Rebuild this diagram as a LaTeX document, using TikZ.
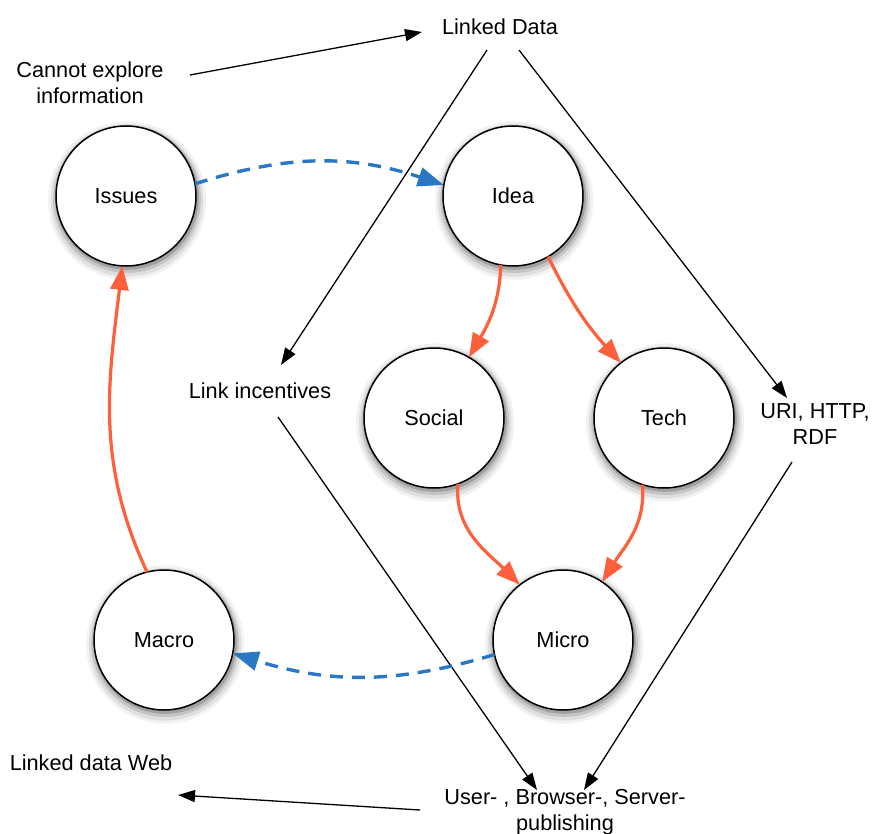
\documentclass[tikz,border=0pt]{standalone}
\usepackage{fontspec}
\setmainfont{Liberation Sans}
\usetikzlibrary{arrows.meta,shadows,calc}

\definecolor{flow}{RGB}{255,96,60}
\definecolor{loop}{RGB}{42,120,196}

\tikzset{
  disc/.style={circle, draw=black, line width=1.5pt, fill=white,
    minimum size=140pt, inner sep=0pt, outer sep=0pt,
    general shadow={fill=black, opacity=0.05, shadow scale=1.13, shadow xshift=1pt, shadow yshift=-4pt},
    general shadow={fill=black, opacity=0.08, shadow scale=1.09, shadow xshift=1pt, shadow yshift=-4pt},
    general shadow={fill=black, opacity=0.12, shadow scale=1.055, shadow xshift=1pt, shadow yshift=-3pt},
    general shadow={fill=black, opacity=0.18, shadow scale=1.025, shadow xshift=1pt, shadow yshift=-2pt}},
  label/.style={inner sep=0pt, align=center},
  plain/.style={draw=black, line width=1.3pt, -{Triangle[length=17pt,width=12pt]}},
  redarrow/.style={draw=flow, line width=3.2pt, -{Triangle[length=24pt,width=18pt]}},
  bluearrow/.style={draw=loop, line width=3.4pt, dash pattern=on 13pt off 9pt,
    -{Triangle[length=26pt,width=19pt]}},
}

\begin{document}
\begin{tikzpicture}[x=1pt, y=1pt, font=\fontsize{21.7}{26}\selectfont]
\useasboundingbox (0,0) rectangle (872,-834);

% circles
\node[disc] (issues) at (126,-196) {Issues};
\node[disc] (idea)   at (513,-196) {Idea};
\node[disc] (social) at (434,-418) {Social};
\node[disc] (tech)   at (664,-418) {Tech};
\node[disc] (micro)  at (563,-640) {Micro};
\node[disc] (macro)  at (164,-640) {Macro};

% free-standing labels
\node[label] (ld)     at (500,-27)  {Linked Data};
\node[label] (cannot) at (90,-83)   {Cannot explore\\information};
\node[label] (li)     at (260,-391) {Link incentives};
\node[label] (uri)    at (815,-424) {URI, HTTP,\\RDF};
\node[label] (ldw)    at (91,-763)  {Linked data Web};
\node[label] (pub)    at (565,-812) {User- , Browser-, Server-\\publishing};

% black connectors between the labels
\draw[plain] ($(cannot)+(100,8)$) -- ($(ld)+(-78,-5)$);
\draw[plain] ($(ld)+(-13,-23)$) -- ($(li)+(21,26)$);
\draw[plain] ($(ld)+(19,-23)$) -- ($(uri)+(-28,26)$);
\draw[plain] ($(li)+(18,-26)$) -- ($(pub)+(-28,22)$);
\draw[plain] ($(uri)+(-23,-38)$) -- ($(pub)+(19,22)$);
\draw[plain] ($(pub)+(-145,2)$) -- ($(ldw)+(87,-32)$);

% orange flow between the circles
\draw[redarrow] (idea.-100) to[out=-92, in=60] (social.60);
\draw[redarrow] (idea.-60) to[bend right=8] (tech.128);
\draw[redarrow] (social.-70) to[out=-95, in=135] (micro.128);
\draw[redarrow] (tech.-108) to[out=-85, in=58] (micro.56);
\draw[redarrow] (macro.104) to[out=115, in=-97] (issues.-93);

% blue dashed feedback
\draw[bluearrow] (issues.10) to[bend left=18] (idea.171);
\draw[bluearrow] (micro.-168) to[bend left=17] (macro.-11);
\end{tikzpicture}
\end{document}
